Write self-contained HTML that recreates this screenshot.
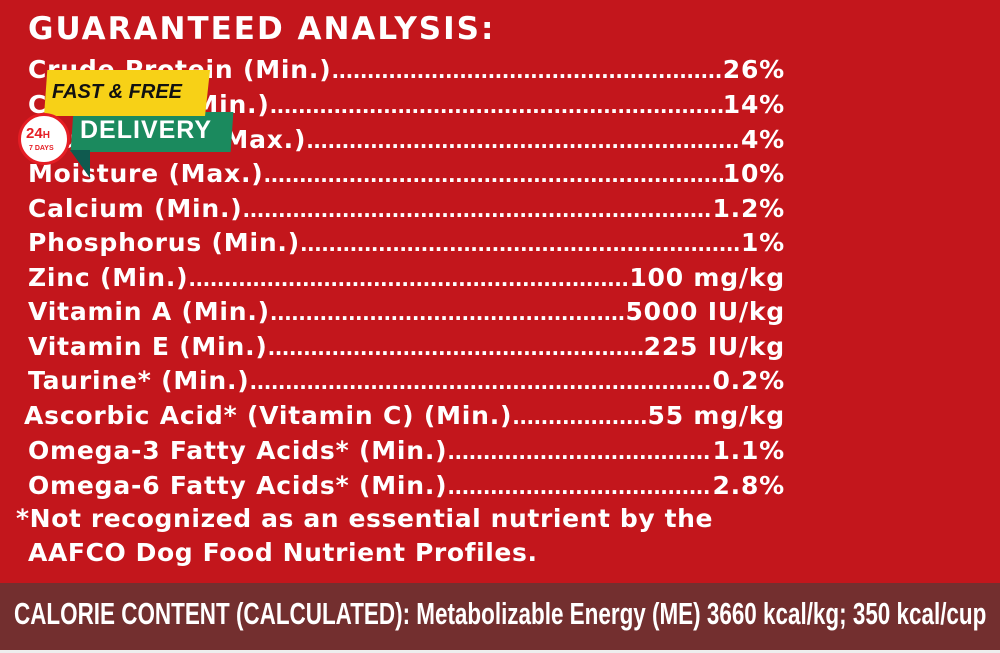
<!DOCTYPE html>
<html><head><meta charset="utf-8"><style>
body{margin:0;width:1000px;height:653px;overflow:hidden;background:#fff;font-family:"DejaVu Sans",sans-serif;}
#red{position:absolute;left:0;top:0;width:1000px;height:583px;background:#c3161c;}
#bar{position:absolute;left:0;top:583px;width:1000px;height:67px;background:#732f2f;}
.t{position:absolute;color:#fff;font-weight:bold;white-space:nowrap;}
.row{position:absolute;left:28px;width:757px;display:flex;color:#fff;font-weight:bold;font-size:25px;letter-spacing:0.8px;height:34px;line-height:34px;white-space:nowrap;}
.row .d{flex:1;overflow:hidden;}
.row .d:before{content:"........................................................................................................................................................................";font-size:20px;letter-spacing:-0.5px}
</style></head><body>
<div id="red"></div>
<div class="t" style="left:28px;top:11px;font-size:31px;letter-spacing:2px">GUARANTEED ANALYSIS:</div>
<div class="row" style="top:53px"><span>Crude Protein (Min.) </span><span class="d"></span><span> 26%</span></div>
<div class="row" style="top:88px"><span>Crude Fat (Min.)</span><span class="d"></span><span>14%</span></div>
<div class="row" style="top:123px"><span>Crude Fiber (Max.) </span><span class="d"></span><span> 4%</span></div>
<div class="row" style="top:157px"><span>Moisture (Max.)</span><span class="d"></span><span>10%</span></div>
<div class="row" style="top:192px"><span>Calcium (Min.)</span><span class="d"></span><span>1.2%</span></div>
<div class="row" style="top:226px"><span>Phosphorus (Min.) </span><span class="d"></span><span>1%</span></div>
<div class="row" style="top:261px"><span>Zinc (Min.) </span><span class="d"></span><span>100 mg/kg</span></div>
<div class="row" style="top:295px"><span>Vitamin A (Min.)</span><span class="d"></span><span>5000 IU/kg</span></div>
<div class="row" style="top:330px"><span>Vitamin E (Min.) </span><span class="d"></span><span> 225 IU/kg</span></div>
<div class="row" style="top:364px"><span>Taurine* (Min.)</span><span class="d"></span><span>0.2%</span></div>
<div class="row" style="top:399px;left:24px;width:761px"><span>Ascorbic Acid* (Vitamin C) (Min.)</span><span class="d"></span><span> 55 mg/kg</span></div>
<div class="row" style="top:434px"><span>Omega-3 Fatty Acids* (Min.) </span><span class="d"></span><span>1.1%</span></div>
<div class="row" style="top:469px"><span>Omega-6 Fatty Acids* (Min.)</span><span class="d"></span><span> 2.8%</span></div>
<div class="t" style="left:16px;top:504px;font-size:25px;letter-spacing:0.6px">*Not recognized as an essential nutrient by the</div>
<div class="t" style="left:28px;top:538px;font-size:25px;letter-spacing:0.6px">AAFCO Dog Food Nutrient Profiles.</div>
<div id="bar"></div>
<div class="t" style="left:14px;top:596px;font-family:'Liberation Sans',sans-serif;font-size:31px;transform-origin:0 0;transform:scaleX(0.724);">CALORIE CONTENT (CALCULATED): Metabolizable Energy (ME) 3660 kcal/kg; 350 kcal/cup</div>
<!-- badge -->
<div style="position:absolute;left:72px;top:112px;width:160px;height:40px;background:#1b8a5e;transform:skewX(-4deg)"></div>
<div style="position:absolute;top:150px;width:0;height:0;border-left:20px solid transparent;border-top:28px solid #0f5a4f;left:70px"></div>
<div class="t" style="left:80px;top:116px;font-size:25px;font-family:'Liberation Sans',sans-serif;letter-spacing:1px">DELIVERY</div>
<div style="position:absolute;left:44px;top:70px;width:166px;height:46px;background:#f7d117;clip-path:polygon(2% 0,100% 0,97% 100%,0 100%)"></div>
<div class="t" style="left:52px;top:81px;font-size:20px;color:#111;font-style:italic;font-family:'Liberation Sans',sans-serif;">FAST &amp; FREE</div>
<div style="position:absolute;left:18px;top:113px;width:46px;height:46px;border-radius:50%;background:#fff;border:3px solid #e51d24;"></div>
<div class="t" style="left:26px;top:125px;font-size:15px;color:#e51d24;font-family:'Liberation Sans',sans-serif;">24<span style="font-size:10px">H</span></div>
<div class="t" style="left:29px;top:145px;font-size:7px;color:#e51d24;font-family:'Liberation Sans',sans-serif;">7 DAYS</div>
<div style="position:absolute;left:0;top:650px;width:1000px;height:3px;background:#eee"></div>
</body></html>
